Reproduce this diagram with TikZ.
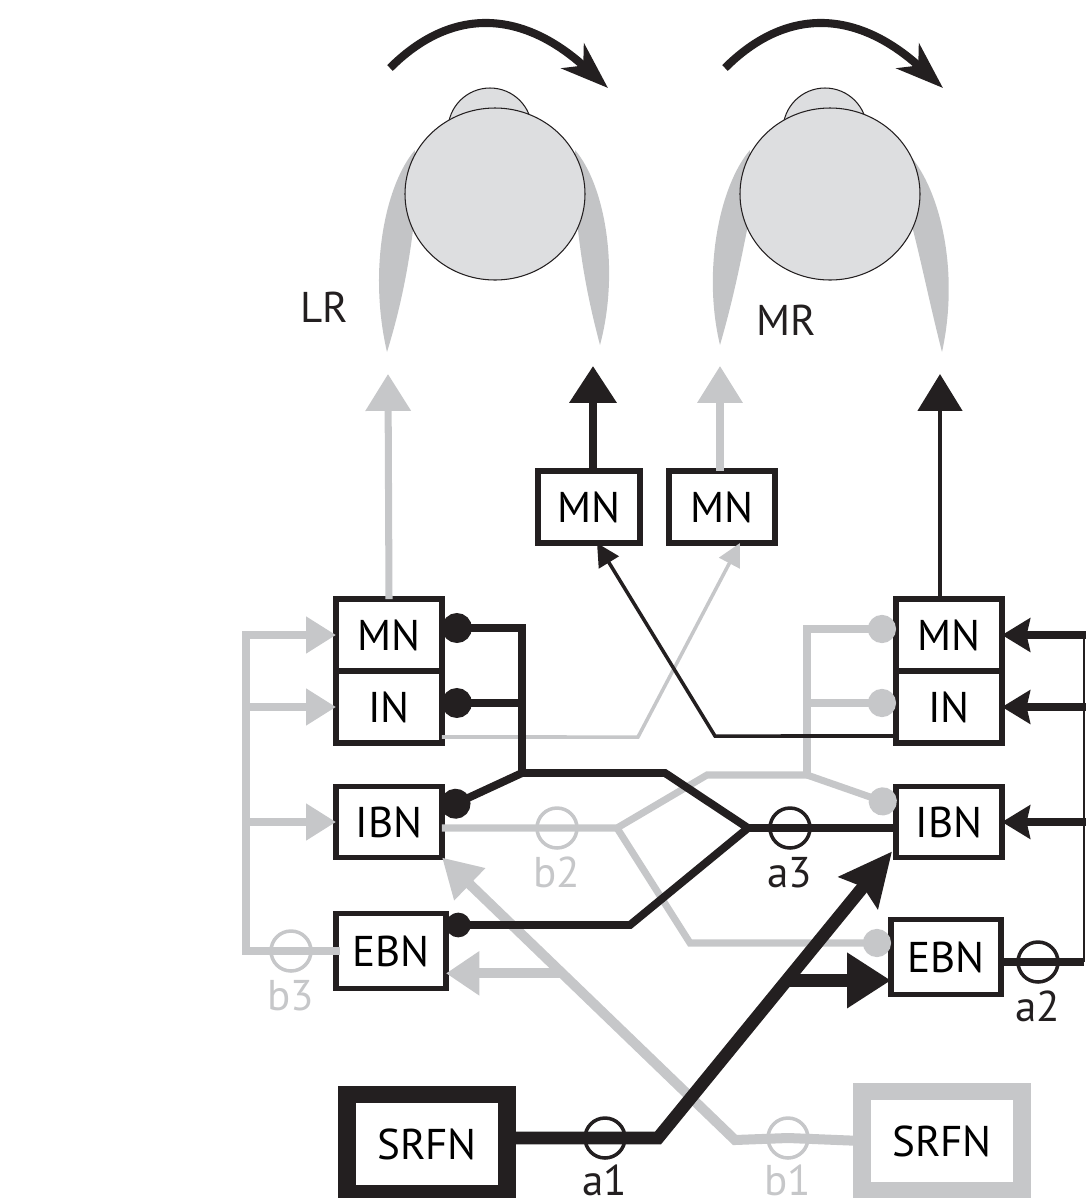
\documentclass[tikz,border=0pt]{standalone}
\usepackage{fontspec}
\setmainfont{PT Sans}
\usetikzlibrary{arrows.meta,calc,positioning}

\definecolor{ink}{HTML}{231F20}
\definecolor{pale}{HTML}{C6C7C9}
\definecolor{globe}{HTML}{DDDEE0}
\definecolor{muscle}{HTML}{C3C4C6}

\tikzset{
  cell/.style={draw=ink, line width=3.2pt, fill=white, inner sep=0pt, outer sep=0pt,
    minimum width=2.12cm, minimum height=1.44cm, font=\fontsize{24.5}{28}\selectfont},
  srfn/.style={cell, line width=10pt, minimum width=3.2cm, minimum height=1.98cm},
  relay/.style={circle, line width=2pt, minimum size=0.8cm, inner sep=0pt},
  lbl/.style={inner sep=0pt, font=\fontsize{24.5}{28}\selectfont},
  inkline/.style={color=ink, line width=4.5pt},
  inkthin/.style={color=ink, line width=2pt},
  inkfat/.style={color=ink, line width=7.2pt},
  paleline/.style={color=pale, line width=4pt},
  palethin/.style={color=pale, line width=2pt},
  palefat/.style={color=pale, line width=5.7pt}
}

\begin{document}
\begin{tikzpicture}[x=0.02cm,y=-0.02cm]
    \useasboundingbox (0,0) rectangle (1086,1198);
    \clip (0,0) rectangle (1086,1198);
    % muscles behind the globes
    \fill[muscle] (415,150) .. controls (385,185) and (368,270) .. (387,352) .. controls (400,310) and (408,270) .. (413,230) -- cycle;
    \fill[muscle] (575,150) .. controls (605,185) and (620,270) .. (600,345) .. controls (588,300) and (582,265) .. (578,230) -- cycle;
    \fill[muscle] (750,150) .. controls (720,185) and (702,270) .. (720,345) .. controls (733,300) and (740,265) .. (747,230) -- cycle;
    \fill[muscle] (905,150) .. controls (940,185) and (960,270) .. (942,352) .. controls (930,305) and (922,265) .. (913,230) -- cycle;
    \foreach \cx in {0,335} {
        \draw[ink, line width=0.6pt, fill=globe] (490+\cx,130) circle (42);
        \draw[ink, line width=0.6pt, fill=globe] (495+\cx,194) ellipse (90 and 86);
        \draw[ink, line width=4.6pt, -{Stealth[length=27pt,width=19pt,inset=8pt]}] (390+\cx,68) .. controls (450+\cx,8) and (520+\cx,8) .. (608+\cx,88);
    }
    \node[lbl, text=ink] (lr) at (324,307) {LR};
    \node[lbl, text=ink] (mr) at (786,320) {MR};
    \coordinate (musA) at (388,374);
    \coordinate (musB) at (593,366);
    \coordinate (musC) at (720,366);
    \coordinate (musD) at (940,374);

    % neurons
    \node[cell, minimum width=2.04cm] (mnC) at (589,507) {MN};
    \node[cell, minimum width=2.12cm] (mnD) at (722,507) {MN};
    \node[cell] (mnA) at (389,635) {MN};
    \node[cell, below=0pt of mnA] (inA) {IN};
    \node[cell, minimum height=1.42cm] (ibnA) at (389,822) {IBN};
    \node[cell, minimum width=2.2cm, minimum height=1.5cm] (ebnA) at (391,951) {EBN};
    \node[cell] (mnB) at (949,635) {MN};
    \node[cell, below=0pt of mnB] (inB) {IN};
    \node[cell, minimum height=1.42cm] (ibnB) at (949,822) {IBN};
    \node[cell, minimum width=2.2cm, minimum height=1.5cm] (ebnB) at (946,957) {EBN};
    \node[srfn] (srfnA) at (427,1144) {SRFN};
    \node[srfn, draw=pale] (srfnB) at (942,1141) {SRFN};

    % relays
    \foreach \r/\x/\y in {a1/605/1138,a2/1038/962,a3/790/828}
        \node[relay, draw=ink] (\r) at (\x,\y) {};
    \foreach \r/\x/\y in {b1/788/1138,b2/557/828,b3/291/951}
        \node[relay, draw=pale] (\r) at (\x,\y) {};
    \foreach \r in {a2,a3}
        \node[lbl, text=ink, below=4pt of \r] (\r-tag) {\r};
    \foreach \r in {b2,b3}
        \node[lbl, text=pale, below=4pt of \r] (\r-tag) {\r};
    \node[lbl, text=ink, anchor=south] (a1-tag) at (605,1196) {a1};
    \node[lbl, text=pale, anchor=south] (b1-tag) at (788,1196) {b1};

    % grey side
    \coordinate (busL) at (246,951);
    \draw[paleline, line cap=rect] (ebnA.west) -- (b3.center) -- (busL) -- (busL |- mnA.west);
    \foreach \n in {mnA,inA,ibnA}
        \draw[paleline, -{Triangle[length=17pt,width=20pt]}] (busL |- \n.west) -- (\n.west);
    \draw[paleline, -{Triangle[length=21pt,width=25pt]}] (mnA.north) -- (musA);
    \draw[paleline, -{Triangle[length=21pt,width=25pt]}] ($(mnD.north)+(-2,0)$) -- (musC);
    \draw[palethin, -{Triangle[length=13pt,width=13pt]}] ($(inA.east)+(0,30)$) -- (638,737) -- ($(mnD.south)+(18,0)$);
    \coordinate (bj1) at (617,828);
    \coordinate (bj2) at (807,775);
    \draw[paleline] ($(ibnA.east)+(0,6)$) -- (b2.center) -- (bj1) -- (707,775) -- (bj2);
    \draw[paleline, -{Circle[length=16pt]}] (bj2) |- ($(mnB.west)+(0,-6)$);
    \draw[paleline, -{Circle[length=16pt]}] (bj2) |- ($(inB.west)+(0,-4)$);
    \draw[paleline, -{Circle[length=16pt]}] (bj2) -- ($(ibnB.west)+(0,-16)$);
    \draw[paleline, -{Circle[length=16pt]}] (bj1) -- (690,943) -- ($(ebnB.west)+(0,-14)$);
    \draw[palefat, -{Triangle[length=22pt,width=24pt]}] (srfnB.west) -- (b1.center) -- (735,1140) -- coordinate[pos=0.59] (bfork) (ibnA.south east);
    \draw[palefat, -{Triangle[length=19pt,width=24pt]}] (bfork) -- (bfork -| ebnA.east);

    % black side
    \draw[inkline, -{Triangle[length=21pt,width=26pt]}] ($(mnC.north)+(4,0)$) -- (musB);
    \draw[ink, line width=2.8pt, -{Triangle[length=21pt,width=25pt]}] ($(mnB.north)+(-9,0)$) -- (musD);
    \draw[inkthin, -{Triangle[length=13pt,width=13pt]}] ($(inB.west)+(0,29)$) -- (715,736) -- ($(mnC.south)+(8,0)$);
    \coordinate (aj1) at (522,773);
    \coordinate (aj2) at (748,828);
    \draw[inkline, -{Circle[length=17pt]}] (aj1) |- ($(mnA.east)+(0,-7)$);
    \draw[inkline, -{Circle[length=17pt]}] (aj1) |- ($(inA.east)+(0,-4)$);
    \draw[inkline, -{Circle[length=17pt]}] (aj1) -- ($(ibnA.east)+(0,-12)$);
    \draw[inkline] (aj1) -- (665,773) -- (aj2);
    \draw[inkline, -{Circle[length=14pt]}] (aj2) -- (630,925) -- ($(ebnA.east)+(0,-26)$);
    \draw[inkline] (aj2) -- (a3.center) -- ($(ibnB.west)+(0,6)$);
    \coordinate (busR) at (1084,962);
    \draw[inkline] ($(ebnB.east)+(0,5)$) -- (a2.center) -- (busR);
    \draw[ink, line width=1.2pt] (busR) -- (busR |- mnB.east);
    \foreach \n in {mnB,inB,ibnB}
        \draw[inkline, line cap=rect, -{Stealth[length=16pt,width=19pt,inset=2pt]}] (busR |- \n.east) -- (\n.east);
    \draw[inkfat, -{Stealth[length=30pt,width=28pt,inset=4pt]}] ($(srfnA.east)+(0,-6)$) -- (a1.center) -- (658,1138) -- coordinate[pos=0.55] (afork) ($(ibnB.south west)+(-4,-6)$);
    \draw[inkfat, -{Triangle[length=25pt,width=30pt]}] (afork) -- (afork -| ebnB.west);
\end{tikzpicture}
\end{document}
